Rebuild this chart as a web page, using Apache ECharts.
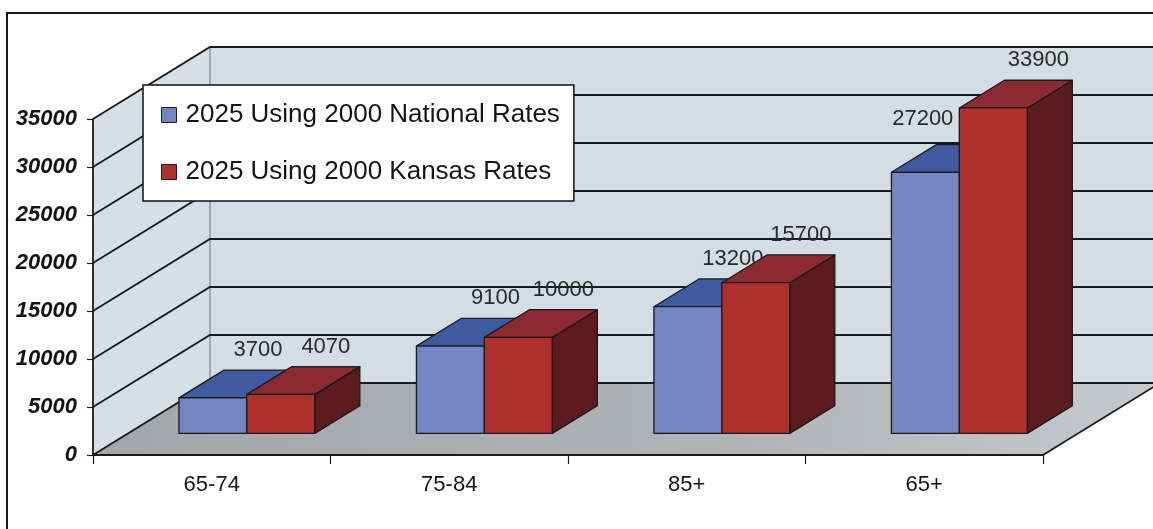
<!DOCTYPE html>
<html>
<head>
<meta charset="utf-8">
<title>2025 projections by age group</title>
<script src="https://cdn.jsdelivr.net/npm/echarts@6/dist/echarts.min.js"></script>
<style>
  html, body { margin: 0; padding: 0; background: #ffffff; }
  #chart { width: 1153px; height: 529px; }
</style>
</head>
<body>
<div id="chart"></div>
<script>
// Age groups along the front of the floor
const categories = ['65-74', '75-84', '85+', '65+'];
// Projected counts for 2025
const nationalRates = [3700, 9100, 13200, 27200];
const kansasRates = [4070, 10000, 15700, 33900];
// Value levels drawn as wall gridlines
const gridValues = [0, 5000, 10000, 15000, 20000, 25000, 30000, 35000];
const seriesNames = ['2025 Using 2000 National Rates', '2025 Using 2000 Kansas Rates'];

const FONT = '"Liberation Sans", Arial, Helvetica, sans-serif';

// Oblique depth of the box (pixels from front plane to back wall)
const DX = 117, DY = -72;
// Bars sit between these fractions of the depth
const Z0 = 0.3, ZD = 0.385;
// Each bar's width as a fraction of a category band
const BAR_FRAC = 0.286;

const palette = [
  { front: '#7585c2', top: '#3f5a9f', side: '#2e3d70' },
  { front: '#ae302d', top: '#8b2a31', side: '#5b1b1f' }
];
const EDGE = '#1a1a1a';

function renderWalls(params, api) {
  const cs = params.coordSys;
  const x0 = cs.x, x1 = cs.x + cs.width;
  const yTop = api.coord([0, gridValues[gridValues.length - 1]])[1];
  const yBot = api.coord([0, 0])[1];
  const children = [];
  // left side wall
  children.push({ type: 'polygon', shape: { points: [[x0, yTop], [x0 + DX, yTop + DY], [x0 + DX, yBot + DY], [x0, yBot]] },
    style: { fill: '#d5dfe5', stroke: null } });
  // back wall
  children.push({ type: 'polygon', shape: { points: [[x0 + DX, yTop + DY], [x1 + DX, yTop + DY], [x1 + DX, yBot + DY], [x0 + DX, yBot + DY]] },
    style: { fill: '#d3dde3', stroke: null } });
  // floor
  children.push({ type: 'polygon', shape: { points: [[x0, yBot], [x0 + DX, yBot + DY], [x1 + DX, yBot + DY], [x1, yBot]] },
    style: { fill: new echarts.graphic.LinearGradient(0, 0, 1, 0, [
      { offset: 0, color: '#a2a6a9' }, { offset: 0.6, color: '#b0b4b7' }, { offset: 1, color: '#c6cacc' }
    ]), stroke: null } });
  // corner where side wall meets back wall
  children.push({ type: 'line', shape: { x1: x0 + DX, y1: yTop + DY, x2: x0 + DX, y2: yBot + DY },
    style: { stroke: '#6f7478', lineWidth: 1 } });
  // gridlines across side wall and back wall
  gridValues.forEach(function (v) {
    const y = api.coord([0, v])[1];
    children.push({ type: 'polyline', shape: { points: [[x0, y], [x0 + DX, y + DY], [x1 + DX, y + DY]] },
      style: { stroke: EDGE, lineWidth: 1.8, fill: null } });
  });
  // right edge of the floor
  children.push({ type: 'line', shape: { x1: x1, y1: yBot, x2: x1 + DX, y2: yBot + DY },
    style: { stroke: EDGE, lineWidth: 1.8 } });
  return { type: 'group', children: children };
}

function makeBarRenderer(seriesIdx) {
  return function (params, api) {
    const cat = api.value(0);
    const val = api.value(1);
    const base = api.coord([cat, 0]);
    const topPt = api.coord([cat, val]);
    const band = api.size([1, 0])[0];
    const w = band * BAR_FRAC;
    const dx0 = DX * Z0, dy0 = DY * Z0;
    const ddx = DX * ZD, ddy = DY * ZD;
    const xl = base[0] + (seriesIdx === 0 ? -w : 0) + dx0;
    const xr = xl + w;
    const yb = base[1] + dy0;
    const yt = topPt[1] + dy0;
    const c = palette[seriesIdx];
    const edgeStyle = { stroke: EDGE, lineWidth: 1.3, lineJoin: 'round' };

    // value label above the back edge of the top face
    let lx = xl + w / 2 + ddx, ly = yt + ddy - 20, align = 'center';
    if (seriesIdx === 0) {
      // keep the label clear of the neighbouring taller bar
      const otherTop = api.coord([cat, kansasRates[cat]])[1] + dy0;
      if (ly + 7 > otherTop) { lx = xr - 6; align = 'right'; ly = yt + ddy - 26; }
    }

    return {
      type: 'group',
      children: [
        { type: 'polygon', shape: { points: [[xr, yt], [xr + ddx, yt + ddy], [xr + ddx, yb + ddy], [xr, yb]] },
          style: Object.assign({ fill: c.side }, edgeStyle) },
        { type: 'polygon', shape: { points: [[xl, yt], [xr, yt], [xr + ddx, yt + ddy], [xl + ddx, yt + ddy]] },
          style: Object.assign({ fill: c.top }, edgeStyle) },
        { type: 'rect', shape: { x: xl, y: yt, width: w, height: yb - yt },
          style: Object.assign({ fill: c.front }, edgeStyle) },
        { type: 'text', x: lx, y: ly,
          style: { text: String(val), fill: '#2a2a2a', font: '22px ' + FONT, align: align, verticalAlign: 'middle' } }
      ]
    };
  };
}

const chart = echarts.init(document.getElementById('chart'), null, { renderer: 'canvas' });

const option = {
  animation: false,
  backgroundColor: '#ffffff',
  grid: { left: 93, top: 119, width: 950, height: 336, containLabel: false, outerBoundsMode: 'none' },
  legend: {
    orient: 'vertical',
    left: 143,
    top: 85,
    padding: [17, 14, 16, 18],
    itemWidth: 15,
    itemHeight: 15,
    itemGap: 31,
    icon: 'rect',
    backgroundColor: '#ffffff',
    borderColor: '#111111',
    borderWidth: 1.5,
    borderRadius: 0,
    selectedMode: false,
    textStyle: { fontSize: 26, lineHeight: 26, color: '#151515', fontFamily: FONT, padding: [0, 0, 0, 4] },
    data: [
      { name: seriesNames[0], itemStyle: { color: palette[0].front, borderColor: '#222', borderWidth: 1 } },
      { name: seriesNames[1], itemStyle: { color: palette[1].front, borderColor: '#222', borderWidth: 1 } }
    ],
    z: 20
  },
  xAxis: {
    type: 'category',
    data: categories,
    boundaryGap: true,
    z: 10,
    axisLine: { show: true, lineStyle: { color: EDGE, width: 1.8 } },
    axisTick: { show: true, length: 9, interval: 0, alignWithLabel: false, lineStyle: { color: EDGE, width: 1.2 } },
    axisLabel: { fontSize: 22, color: '#151515', fontFamily: FONT, margin: 19 },
    splitLine: { show: false }
  },
  yAxis: {
    type: 'value',
    min: 0,
    max: 35000,
    interval: 5000,
    z: 10,
    axisLine: { show: true, lineStyle: { color: EDGE, width: 1.8 } },
    axisTick: { show: true, length: 6, lineStyle: { color: EDGE, width: 1.2 } },
    axisLabel: {
      fontSize: 22, fontWeight: 'bold', fontStyle: 'italic', color: '#151515', fontFamily: FONT, margin: 16,
      formatter: function (v) { return String(v); }
    },
    splitLine: { show: false }
  },
  graphic: [
    { type: 'rect', silent: true, z: 100, shape: { x: 7, y: 13, width: 1400, height: 800 },
      style: { fill: null, stroke: '#161616', lineWidth: 2 } }
  ],
  series: [
    {
      type: 'custom',
      name: 'walls',
      z: 1,
      clip: false,
      silent: true,
      renderItem: renderWalls,
      data: [[0, 0]]
    },
    {
      type: 'custom',
      name: seriesNames[0],
      z: 2,
      clip: false,
      itemStyle: { color: palette[0].front },
      renderItem: makeBarRenderer(0),
      data: nationalRates.map(function (v, i) { return [i, v]; })
    },
    {
      type: 'custom',
      name: seriesNames[1],
      z: 3,
      clip: false,
      itemStyle: { color: palette[1].front },
      renderItem: makeBarRenderer(1),
      data: kansasRates.map(function (v, i) { return [i, v]; })
    }
  ]
};

chart.setOption(option);
</script>
</body>
</html>
